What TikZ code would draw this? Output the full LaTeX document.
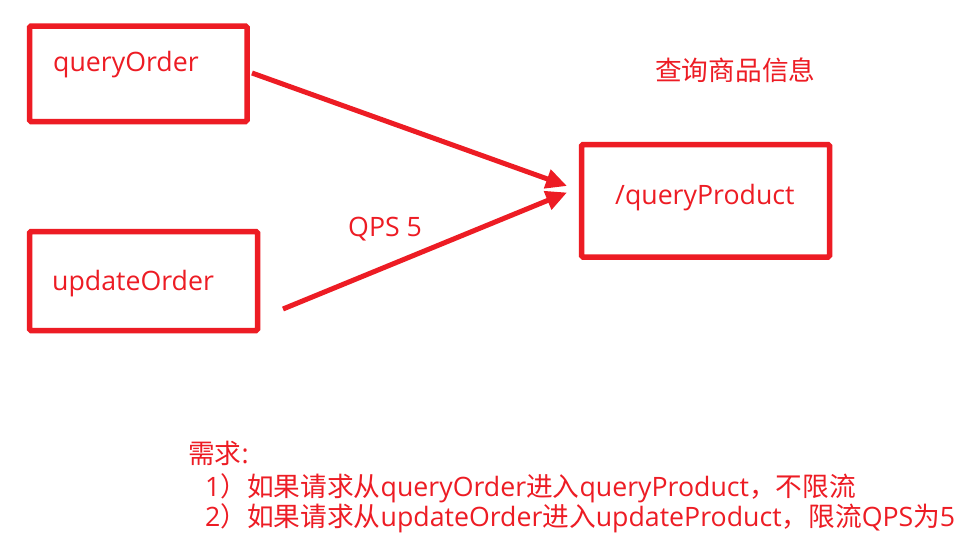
\documentclass[tikz,border=0pt]{standalone}
\usepackage{fontspec}
\setmainfont{Open Sans}
\newfontfamily\cjk{Noto Sans CJK SC}
\usetikzlibrary{arrows.meta}
\definecolor{rd}{RGB}{237,28,36}
\begin{document}
\begin{tikzpicture}[x=1pt,y=-1pt,
  box/.style={draw=rd, line width=5.5pt, rounded corners=1.5pt, inner sep=0pt},
  lbl/.style={text=rd, font=\fontsize{26.7}{32}\selectfont, inner sep=0pt, anchor=base west},
  arr/.style={draw=rd, line width=5pt, -{Triangle[length=21pt,width=19pt]}}]
\useasboundingbox (0,0) rectangle (972,549);
\fill[white] (0,0) rectangle (972,549);
% boxes
\node[box, minimum width=217.5pt, minimum height=95.5pt] (qo) at (138.25,73.75) {};
\node[box, minimum width=228pt, minimum height=99pt] (uo) at (143.5,281) {};
\node[box, minimum width=248pt, minimum height=112.5pt] (qp) at (705.5,200.75) {};
% labels
\node[lbl] (qot) at (53,71) {queryOrder};
\node[lbl] (uot) at (52,290) {updateOrder};
\node[lbl] (qpt) at (615,204) {/queryProduct};
\node[lbl] (title) at (655,80) {\cjk 查询商品信息};
\node[lbl] (qps) at (348,236.5) {QPS 5};
% arrows
\coordinate (s1) at (252,73);
\coordinate (t1) at (567,186);
\coordinate (s2) at (283,309);
\coordinate (t2) at (567,192.5);
\draw[arr] (s1) -- (t1);
\draw[arr] (s2) -- (t2);
% requirements
\node[lbl] (req) at (188,463) {{\cjk 需求}:};
\node[lbl] (r1) at (205,496.5) {1{\cjk ）如果请求从}queryOrder{\cjk 进入}queryProduct{\cjk ，不限流}};
\node[lbl] (r2) at (205,526.5) {2{\cjk ）如果请求从}updateOrder{\cjk 进入}updateProduct{\cjk ，限流}QPS{\cjk 为}5};
\end{tikzpicture}
\end{document}
